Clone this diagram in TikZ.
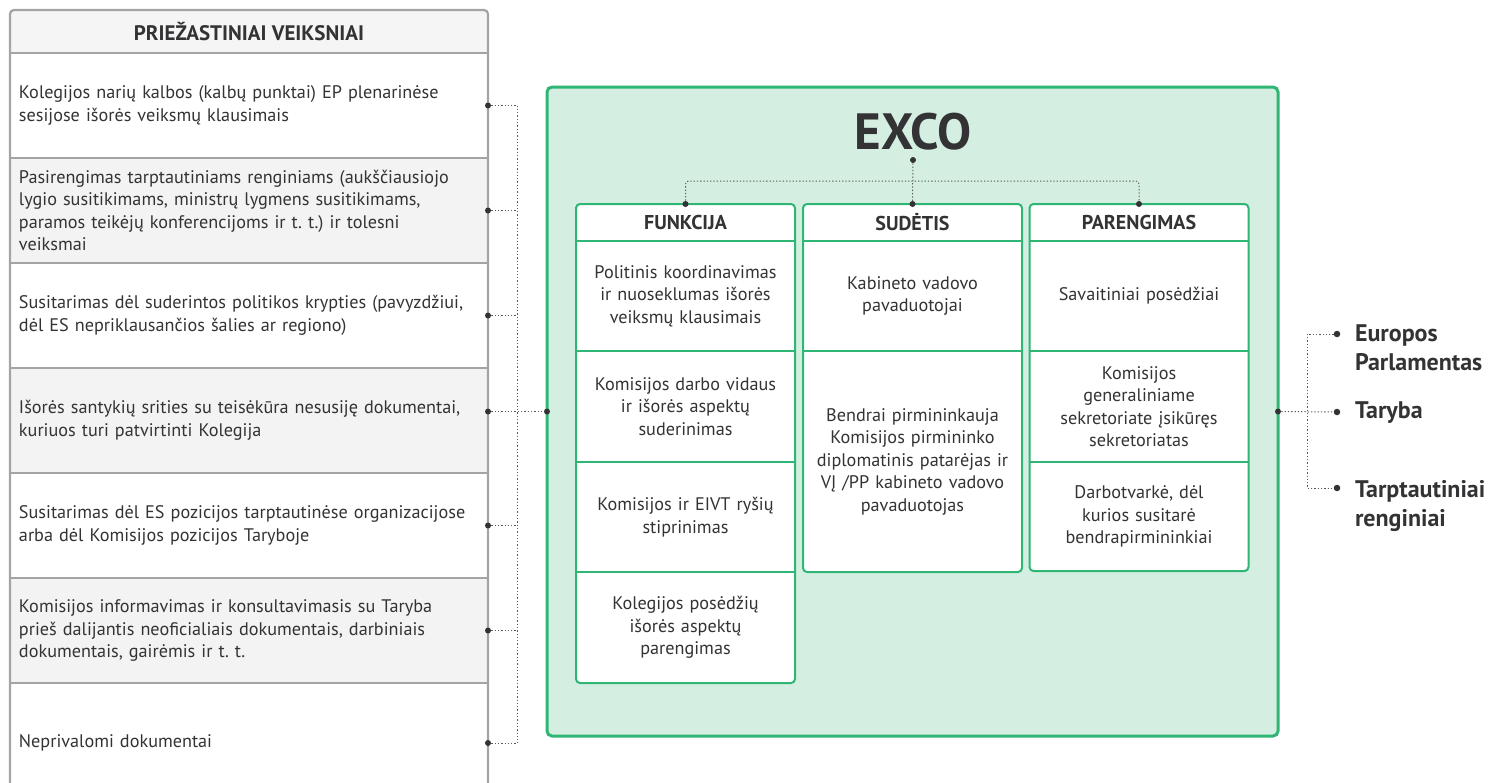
\documentclass[tikz,border=0pt]{standalone}
\usepackage{fontspec}
\setmainfont{PT Sans}
\usetikzlibrary{positioning}
\definecolor{excogreen}{HTML}{2FB574}
\definecolor{mint}{HTML}{D4EFE1}
\definecolor{framegray}{HTML}{A4A4A6}
\definecolor{rowgray}{HTML}{F3F3F3}
\definecolor{headgray}{HTML}{F5F5F5}
\definecolor{ink}{HTML}{333335}
\definecolor{linkgray}{HTML}{5A5A5A}
\frenchspacing

\begin{document}
\begin{tikzpicture}[x=1pt,y=-1pt,
  every node/.style={text=ink,outer sep=0pt,font=\fontsize{18.2}{22.5}\selectfont},
  causehead/.style={minimum width=478pt,minimum height=43pt,inner sep=0pt,fill=headgray,font=\fontsize{21}{22.5}\selectfont\bfseries},
  cause/.style={text width=460pt,inner xsep=9pt,inner ysep=0pt,minimum height=105pt,align=left},
  colbox/.style={minimum width=219pt,draw=excogreen,line width=2pt,fill=white,rounded corners=4pt,inner sep=0pt},
  colhead/.style={minimum width=219pt,minimum height=37pt,inner sep=0pt,font=\fontsize{20}{22.5}\selectfont\bfseries},
  cell/.style={text width=207pt,inner xsep=6pt,inner ysep=0pt,align=center},
  sidelabel/.style={inner sep=0pt,align=left,font=\fontsize{24}{28.5}\selectfont\bfseries},
  linkline/.style={draw=linkgray,line width=1pt,dash pattern=on 1.3pt off 2pt},
  joint/.style={circle,fill=ink,inner sep=0pt,minimum size=6.5pt}]
\useasboundingbox (0,0) rectangle (1497,782);
\clip (0,0) rectangle (1497,782);

\node[causehead] (causehead) at (249,31.5) {PRIEŽASTINIAI VEIKSNIAI};
\node[cause,below=0pt of causehead] (cause1) {Kolegijos narių kalbos (kalbų punktai) EP plenarinėse\\sesijose išorės veiksmų klausimais};
\node[cause,fill=rowgray,below=0pt of cause1] (cause2) {Pasirengimas tarptautiniams renginiams (aukščiausiojo\\lygio susitikimams, ministrų lygmens susitikimams,\\paramos teikėjų konferencijoms ir t. t.) ir tolesni\\veiksmai};
\node[cause,below=0pt of cause2] (cause3) {Susitarimas dėl suderintos politikos krypties (pavyzdžiui,\\dėl ES nepriklausančios šalies ar regiono)};
\node[cause,fill=rowgray,below=0pt of cause3] (cause4) {Išorės santykių srities su teisėkūra nesusiję dokumentai,\\kuriuos turi patvirtinti Kolegija};
\node[cause,below=0pt of cause4] (cause5) {Susitarimas dėl ES pozicijos tarptautinėse organizacijose\\arba dėl Komisijos pozicijos Taryboje};
\node[cause,fill=rowgray,below=0pt of cause5] (cause6) {Komisijos informavimas ir konsultavimasis su Taryba\\prieš dalijantis neoficialiais dokumentais, darbiniais\\dokumentais, gairėmis ir t. t.};
\node[cause,minimum height=120pt,below=0pt of cause6] (cause7) {Neprivalomi dokumentai};
\foreach \r in {causehead,cause1,cause2,cause3,cause4,cause5,cause6}
  \draw[framegray,line width=2pt] (\r.south west) -- (\r.south east);
\draw[framegray,line width=2.2pt,rounded corners=4pt] (cause7.south west) -- (causehead.north west) -- (causehead.north east) -- (cause7.south east);

\node[draw=excogreen,line width=3pt,fill=mint,rounded corners=5pt,minimum width=731pt,minimum height=649pt] (frame) at (912.5,411.5) {};
\node[font=\fontsize{51}{51}\selectfont\bfseries,anchor=base] (exco) at (913,149) {EXCO};
\coordinate (excodot) at ([yshift=-11pt]exco.base);

\node[colbox,minimum height=479pt,anchor=north] (fcol) at (685.5,204) {};
\node[colbox,minimum height=368pt,anchor=north] (scol) at (912.5,204) {};
\node[colbox,minimum height=367pt,anchor=north] (pcol) at (1139,204) {};

\node[colhead,below=0pt of fcol.north] (fhead) {FUNKCIJA};
\node[cell,minimum height=110pt,below=0pt of fhead] (f1) {Politinis koordinavimas\\ir nuoseklumas išorės\\veiksmų klausimais};
\node[cell,minimum height=111pt,below=0pt of f1] (f2) {Komisijos darbo vidaus\\ir išorės aspektų\\suderinimas};
\node[cell,minimum height=110pt,below=0pt of f2] (f3) {Komisijos ir EIVT ryšių\\stiprinimas};
\node[cell,minimum height=111pt,below=0pt of f3] (f4) {Kolegijos posėdžių\\išorės aspektų\\parengimas};

\node[colhead,below=0pt of scol.north] (shead) {SUDĖTIS};
\node[cell,minimum height=110pt,below=0pt of shead] (s1) {Kabineto vadovo\\pavaduotojai};
\node[cell,minimum height=221pt,below=0pt of s1] (s2) {Bendrai pirmininkauja\\Komisijos pirmininko\\diplomatinis patarėjas ir\\VĮ /PP kabineto vadovo\\pavaduotojas};

\node[colhead,below=0pt of pcol.north] (phead) {PARENGIMAS};
\node[cell,minimum height=110pt,below=0pt of phead] (p1) {Savaitiniai posėdžiai};
\node[cell,minimum height=111pt,below=0pt of p1] (p2) {Komisijos\\generaliniame\\sekretoriate įsikūręs\\sekretoriatas};
\node[cell,minimum height=109pt,below=0pt of p2] (p3) {Darbotvarkė, dėl\\kurios susitarė\\bendrapirmininkiai};

\foreach \r in {fhead,f1,f2,f3,shead,s1,phead,p1,p2}
  \draw[excogreen,line width=2pt] (\r.south west) -- (\r.south east);

\coordinate (bar) at (913,181);
\draw[linkline,rounded corners=3pt] (fhead.north) |- (bar) -| (phead.north);
\draw[linkline] (excodot) -- (shead.north);
\foreach \n in {excodot,fhead.north,shead.north,phead.north}
  \fill[ink] (\n) circle (3pt);

\coordinate (bus) at (517,412);
\foreach \r in {cause1,cause2,cause3,cause5,cause6,cause7} {
  \draw[linkline] (\r.east) -- (\r.east -| bus);
  \fill[ink] (\r.east) circle (3pt);
}
\draw[linkline] (cause1.east -| bus) -- (cause7.east -| bus);
\draw[linkline] (cause4.east |- frame.west) -- (frame.west);
\fill[ink] (cause4.east |- frame.west) circle (3pt) (frame.west) circle (3pt);

\coordinate (rbus) at (1307,412);
\node[joint] (epdot) at (1337,334) {};
\node[joint] (tbdot) at (1337,412) {};
\node[joint] (tadot) at (1337,488) {};
\draw[linkline] (frame.east) -- (tbdot);
\draw[linkline] (epdot) -- (epdot -| rbus) -- (tadot -| rbus) -- (tadot);
\fill[ink] (frame.east) circle (3pt);
\node[sidelabel,anchor=base west] (ep) at (1355,370) {Europos\\Parlamentas};
\node[sidelabel,anchor=base west] (tb) at (1355,418) {Taryba};
\node[sidelabel,anchor=base west] (ta) at (1355,526) {Tarptautiniai\\renginiai};
\end{tikzpicture}
\end{document}
